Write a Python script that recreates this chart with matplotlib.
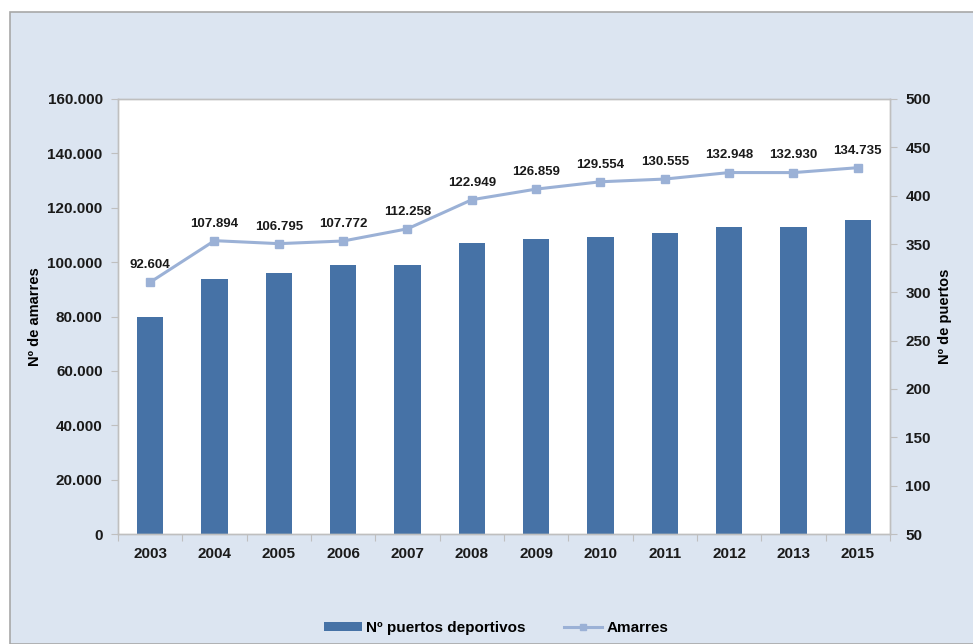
import numpy as np
import matplotlib.pyplot as plt
from matplotlib.patches import Rectangle
from matplotlib.lines import Line2D
from matplotlib.patches import Patch

plt.rcParams["font.family"] = ["Liberation Sans", "DejaVu Sans"]
plt.rcParams["font.weight"] = "bold"

# Data
years = ["2003", "2004", "2005", "2006", "2007", "2008",
         "2009", "2010", "2011", "2012", "2013", "2015"]
puertos = [274, 314, 320, 328, 328, 351, 355, 357, 361, 368, 368, 375]
amarres = [92604, 107894, 106795, 107772, 112258, 122949,
           126859, 129554, 130555, 132948, 132930, 134735]

bar_color = "#4672A6"
line_color = "#9BB1D6"
panel_color = "#DCE5F1"
axis_grey = "#BFBFBF"

fig = plt.figure(figsize=(9.73, 6.44), dpi=100)

# Light blue panel behind the chart
fig.patches.append(Rectangle((10 / 973, 0), 1.0, 1 - 12 / 644,
                             transform=fig.transFigure, facecolor=panel_color,
                             edgecolor="#A8A8A8", linewidth=1.2, zorder=-5))

ax = fig.add_axes([118 / 973, 1 - 534 / 644, (890 - 118) / 973, (534 - 99) / 644])
ax2 = ax.twinx()

x = np.arange(len(years))

# Bars: number of marinas (right axis)
ax2.bar(x, np.array(puertos) - 50, bottom=50, width=0.41, color=bar_color, zorder=2)
ax2.set_ylim(50, 500)
ax2.set_yticks(np.arange(50, 501, 50))

# Line: moorings (left axis), drawn above the bars
ax.set_zorder(ax2.get_zorder() + 1)
ax.patch.set_visible(False)
ax2.patch.set_facecolor("white")
ax2.patch.set_visible(True)

ax.plot(x, amarres, color=line_color, linewidth=2.2, marker="s",
        markersize=6, zorder=3)
for xi, v in zip(x, amarres):
    ax.annotate(f"{v:,}".replace(",", "."), (xi, v), xytext=(0, 8),
                textcoords="offset points", ha="center", va="bottom",
                fontsize=9.5, fontweight="bold", color="#1A1A1A")

ax.set_ylim(0, 160000)
ax.set_yticks(np.arange(0, 160001, 20000))
ax.set_yticklabels([f"{int(t):,}".replace(",", ".") for t in np.arange(0, 160001, 20000)])
ax.set_xlim(-0.5, len(years) - 0.5)

# Category ticks between bars, labels centred
ax.set_xticks(np.arange(-0.5, len(years), 1.0))
ax.set_xticklabels([])
ax.set_xticks(x, minor=True)
ax.set_xticklabels(years, minor=True)
ax.tick_params(axis="x", which="minor", length=0, pad=9)
ax.tick_params(axis="x", which="major", length=5, color=axis_grey)

for a in (ax, ax2):
    for s in a.spines.values():
        s.set_color(axis_grey)
        s.set_linewidth(1.0)
    a.tick_params(axis="y", length=5, color=axis_grey, labelsize=11,
                  labelcolor="#1A1A1A", pad=6)
ax.tick_params(axis="x", which="both", labelsize=11, labelcolor="#1A1A1A")

ax.set_ylabel("Nº de amarres", fontsize=10.5, fontweight="bold", labelpad=4)
ax2.set_ylabel("Nº de puertos", fontsize=10.5, fontweight="bold", labelpad=5)

handles = [Patch(facecolor=bar_color, edgecolor="none"),
           Line2D([0], [0], color=line_color, linewidth=2.2, marker="s", markersize=4)]
fig.legend(handles, ["Nº puertos deportivos", "Amarres"], loc="center",
           bbox_to_anchor=(0.51, 1 - 628 / 644), ncol=2, frameon=False,
           fontsize=11, handlelength=2.5, handleheight=0.6, columnspacing=2.5,
           handletextpad=0.3)

plt.savefig("out.png", dpi=100)
